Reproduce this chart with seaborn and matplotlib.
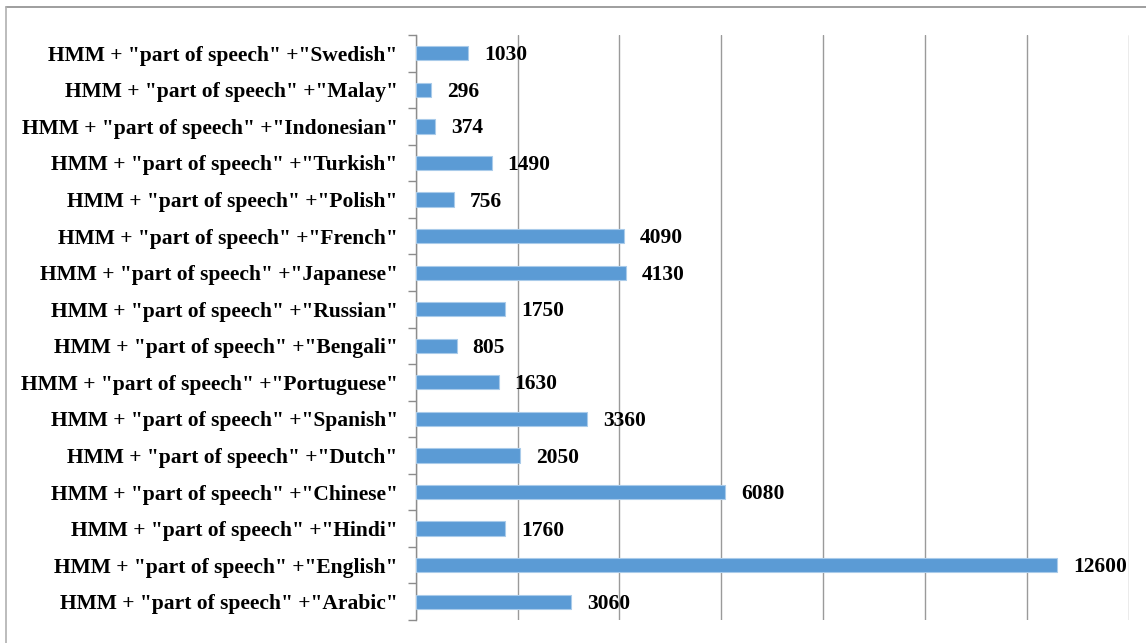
import matplotlib
matplotlib.use("Agg")
import matplotlib.pyplot as plt
from matplotlib.lines import Line2D
from matplotlib.ticker import MultipleLocator, FixedLocator
import seaborn as sns
import pandas as pd

# Languages queried, listed top to bottom
languages = ["Swedish", "Malay", "Indonesian", "Turkish", "Polish", "French",
             "Japanese", "Russian", "Bengali", "Portuguese", "Spanish", "Dutch",
             "Chinese", "Hindi", "English", "Arabic"]
# Number of results for each query
results = [1030, 296, 374, 1490, 756, 4090, 4130, 1750, 805, 1630, 3360, 2050,
           6080, 1760, 12600, 3060]

queries = ['HMM + "part of speech" +"' + lang + '"' for lang in languages]
df = pd.DataFrame({"query": queries, "results": results})

sns.set_theme(style="white")
plt.rcParams["font.family"] = ["Liberation Serif", "DejaVu Serif"]

W, H, DPI = 1146, 643, 100
fig = plt.figure(figsize=(W / DPI, H / DPI), dpi=DPI)
fig.patch.set_facecolor("white")

left, right, top, bottom = 415.7, 1128.5, 35, 620
ax = fig.add_axes([left / W, 1 - bottom / H, (right - left) / W, (bottom - top) / H])

sns.barplot(data=df, x="results", y="query", order=queries, orient="h",
            color="#5B9BD5", saturation=1, width=0.39, ax=ax,
            edgecolor="#A9CBEA", linewidth=0.8, zorder=3)

ax.set_xlim(0, 14000)
ax.set_ylim(len(queries) - 0.5, -0.5)
ax.xaxis.set_major_locator(MultipleLocator(2000))
ax.grid(axis="x", color="#9A9A9A", linewidth=1.0, zorder=0)
ax.grid(axis="y", visible=False)
ax.set_xlabel("")
ax.set_ylabel("")
ax.tick_params(axis="x", bottom=False, labelbottom=False)

# category boundary tick marks on the value axis
ax.yaxis.set_minor_locator(FixedLocator([i - 0.5 for i in range(len(queries) + 1)]))
ax.tick_params(axis="y", which="major", length=0, pad=13)
ax.tick_params(axis="y", which="minor", length=6, width=1, color="#8C8C8C", left=True)

for lbl in ax.get_yticklabels():
    lbl.set_fontsize(15.5)
    lbl.set_fontweight("bold")
    lbl.set_color("black")

for side in ("top", "right", "bottom"):
    ax.spines[side].set_visible(False)
ax.spines["left"].set_color("#8C8C8C")
ax.spines["left"].set_linewidth(1)
ax.set_facecolor("white")

# value labels to the right of each bar
for i, v in enumerate(results):
    ax.annotate(str(v), xy=(v, i), xytext=(11.5, -1.5), textcoords="offset points",
                ha="left", va="center", fontsize=15.5, fontweight="bold", color="black")

# outer chart frame
fx, fy = 5.5 / W, 1 - 6.5 / H
fig.add_artist(Line2D([fx, 1.0], [fy, fy], transform=fig.transFigure, color="#8E8E8E", lw=1.2))
fig.add_artist(Line2D([fx, fx], [0.0, fy], transform=fig.transFigure, color="#B0B0B0", lw=1.2))

fig.savefig("out.png", dpi=DPI, facecolor="white")
